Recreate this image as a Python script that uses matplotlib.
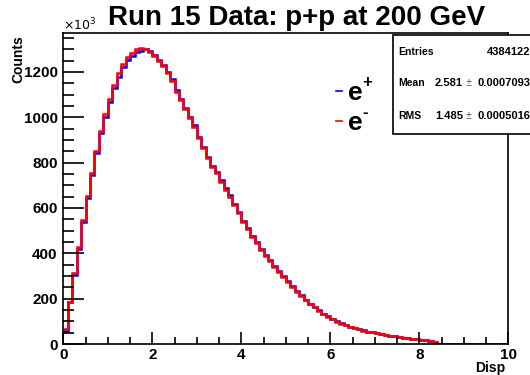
import numpy as np
import matplotlib
matplotlib.use("Agg")
import matplotlib.pyplot as plt
from matplotlib.ticker import MultipleLocator

plt.rcParams['font.family'] = ['Liberation Sans', 'DejaVu Sans']

# Disp distribution, counts in units of 10^3, bins of 0.1 from 0 to 10
e_minus = [65, 187, 312, 429, 547, 654, 756, 851, 941, 1015,
           1079, 1142, 1194, 1235, 1267, 1285, 1302, 1304, 1302, 1289,
           1270, 1250, 1226, 1194, 1160, 1113, 1076, 1035, 995, 959,
           907, 863, 819, 779, 753, 716, 681, 650, 613, 576,
           540, 506, 473, 444, 415, 388, 367, 341, 319, 295,
           275, 253, 231, 212, 194, 176, 162, 147, 132, 121,
           109, 99, 90, 82, 76, 70, 64, 59, 55, 51,
           47, 43, 40, 37, 34, 31, 28, 25, 23, 21,
           19, 17, 15, 10]
e_plus = [57, 185, 306, 420, 538, 645, 745, 840, 930, 1003,
          1066, 1127, 1178, 1220, 1252, 1272, 1288, 1294, 1299, 1290,
          1273, 1254, 1232, 1200, 1167, 1120, 1082, 1041, 1001, 965,
          914, 869, 825, 785, 758, 721, 686, 655, 617, 580,
          544, 510, 477, 448, 419, 392, 370, 344, 322, 298,
          278, 255, 233, 214, 196, 178, 164, 149, 134, 122,
          110, 100, 91, 83, 77, 71, 65, 60, 55, 51,
          47, 44, 40, 37, 34, 31, 28, 26, 23, 21,
          19, 17, 15, 11]

n_bins = 100
edges = np.linspace(0, 10, n_bins + 1)


def full(vals):
    out = np.zeros(n_bins)
    out[:len(vals)] = vals
    return out


stats_rows = [("Entries", "4384122", None),
              ("Mean", "2.581", "0.0007093"),
              ("RMS", "1.485", "0.0005016")]

fig = plt.figure(figsize=(5.3, 3.75), dpi=100)
ax = fig.add_axes([63.3 / 530, 1 - 344 / 375, (508.3 - 63.3) / 530, (344 - 33.3) / 375])

ax.stairs(full(e_plus), edges, color='#0000ff', lw=1.8, baseline=None)
ax.stairs(full(e_minus), edges, color='#ff0000', lw=1.8, baseline=None)

ax.set_xlim(0, 10)
ax.set_ylim(0, 1370)

for s in ax.spines.values():
    s.set_linewidth(1.2)
    s.set_color('black')

ax.xaxis.set_major_locator(MultipleLocator(2))
ax.xaxis.set_minor_locator(MultipleLocator(0.5))
ax.yaxis.set_major_locator(MultipleLocator(200))
ax.yaxis.set_minor_locator(MultipleLocator(50))
ax.tick_params(axis='x', which='major', direction='in', length=9, width=1.2,
               labelsize=11, pad=3)
ax.tick_params(axis='x', which='minor', direction='in', length=5, width=1.2)
ax.tick_params(axis='y', which='major', direction='in', length=15, width=1.2,
               labelsize=11, pad=4)
ax.tick_params(axis='y', which='minor', direction='in', length=8, width=1.2)
for lab in ax.get_xticklabels() + ax.get_yticklabels():
    lab.set_fontweight('bold')

fig.text(297 / 530, 1 - 18 / 375, "Run 15 Data: p+p at 200 GeV", ha='center', va='center',
         fontsize=20, fontweight='bold')
fig.text(63 / 530, 1 - 25 / 375, r"$\times10^{3}$", ha='left', va='center', fontsize=9)
fig.text(18 / 530, 1 - 35 / 375, "Counts", rotation=90, ha='center', va='top',
         fontsize=10, fontweight='bold')
fig.text(505 / 530, 1 - 368 / 375, "Disp", ha='right', va='center',
         fontsize=10, fontweight='bold')

# legend entries: short coloured dash, bold "e" with a raised charge sign
for yy, col, sign in [(91, '#0000ff', '+'), (121, '#ff0000', '-')]:
    fig.add_artist(plt.Line2D([336 / 530, 342 / 530], [1 - yy / 375, 1 - yy / 375],
                              color=col, lw=1.2))
    fig.text(348 / 530, 1 - (yy + 2) / 375, "e", ha='left', va='center',
             fontsize=19, fontweight='bold')
    fig.text(362 / 530, 1 - (yy - 8) / 375, sign, ha='left', va='center',
             fontsize=12, fontweight='bold')

# statistics box
box = plt.Rectangle((393 / 530, 1 - 134 / 375), 200 / 530, 99 / 375,
                    transform=fig.transFigure, facecolor='white', edgecolor='black',
                    lw=1.2, clip_on=False)
fig.add_artist(box)
for (name, val, err), yy in zip(stats_rows, [52, 83, 116]):
    y = 1 - yy / 375
    fig.text(398 / 530, y, name, ha='left', va='center', fontsize=7.5, fontweight='bold')
    if err is None:
        fig.text(530 / 530, y, val, ha='right', va='center', fontsize=8, fontweight='bold')
    else:
        fig.text(463 / 530, y, val, ha='right', va='center', fontsize=8, fontweight='bold')
        fig.text(469 / 530, y, "\u00b1", ha='center', va='center', fontsize=8,
                 color='#555555')
        fig.text(530 / 530, y, err, ha='right', va='center', fontsize=8, fontweight='bold')

fig.savefig("out.png", dpi=100)
